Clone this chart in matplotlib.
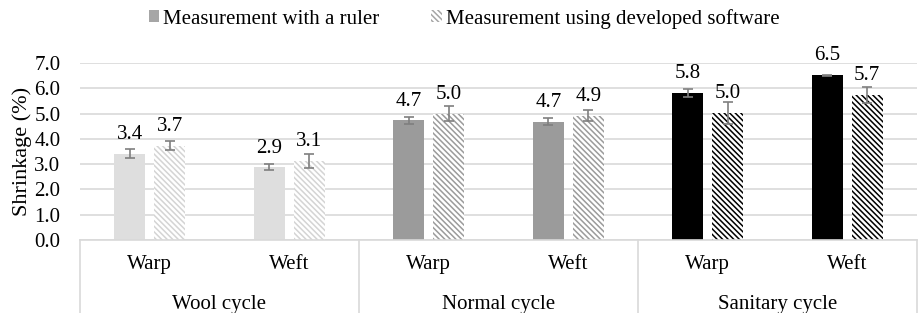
import matplotlib.pyplot as plt
from matplotlib.patches import Patch
import numpy as np

plt.rcParams['font.family'] = ['Liberation Serif', 'DejaVu Serif']
plt.rcParams['hatch.linewidth'] = 1.1

# data
groups = ['Wool cycle', 'Normal cycle', 'Sanitary cycle']
directions = ['Warp', 'Weft', 'Warp', 'Weft', 'Warp', 'Weft']
ruler = [3.42, 2.87, 4.73, 4.68, 5.82, 6.52]
ruler_err = [0.19, 0.12, 0.15, 0.14, 0.17, 0.02]
software = [3.73, 3.12, 5.0, 4.92, 5.02, 5.73]
software_err = [0.19, 0.27, 0.3, 0.22, 0.42, 0.33]
series_names = ['Measurement with a ruler', 'Measurement using developed software']

ruler_colors = ['#dedede', '#dedede', '#9b9b9b', '#9b9b9b', '#000000', '#000000']
hatch_colors = ['#d4d4d4', '#d4d4d4', '#9b9b9b', '#9b9b9b', '#000000', '#000000']

FS = 15
fig = plt.figure(figsize=(9.19, 3.13), dpi=100)
ax = fig.add_axes([80 / 919, 1 - 240 / 313, 837 / 919, 177 / 313])

x = np.arange(len(directions))
off = 0.143
w = 0.222
hatch = '\\' * 6

ax.bar(x - off, ruler, w, color=ruler_colors, zorder=2)
ax.bar(x + off, software, w, color='white', edgecolor=hatch_colors,
       linewidth=0, hatch=hatch, zorder=2)
ax.errorbar(x - off, ruler, yerr=ruler_err, fmt='none', ecolor='#7f7f7f',
            elinewidth=1.2, capsize=3.5, capthick=1.2, zorder=3)
ax.errorbar(x + off, software, yerr=software_err, fmt='none', ecolor='#7f7f7f',
            elinewidth=1.2, capsize=3.5, capthick=1.2, zorder=3)

for xi, v in zip(x - off, ruler):
    ax.annotate('%.1f' % v, (xi, v), xytext=(0, 7), textcoords='offset points',
                ha='center', va='bottom', fontsize=FS)
for xi, v in zip(x + off, software):
    ax.annotate('%.1f' % v, (xi, v), xytext=(0, 7), textcoords='offset points',
                ha='center', va='bottom', fontsize=FS)

ax.set_xlim(-0.5, 5.5)
ax.set_ylim(0, 7)
ax.set_yticks(np.arange(0, 7.1, 1.0))
ax.set_yticklabels(['%.1f' % t for t in np.arange(0, 7.1, 1.0)], fontsize=FS)
ax.yaxis.grid(True, color='#d9d9d9', linewidth=1.2)
ax.set_axisbelow(True)
ax.tick_params(axis='y', length=0, pad=14)
ax.set_ylabel('Shrinkage (%)', fontsize=FS + 1, labelpad=2)

ax.set_xticks(x)
ax.set_xticklabels(directions, fontsize=FS)
ax.tick_params(axis='x', length=0, pad=11)
for s in ['top', 'right', 'left']:
    ax.spines[s].set_visible(False)
ax.spines['bottom'].set_color('#d9d9d9')
ax.spines['bottom'].set_linewidth(1.2)

# category separators and group labels
trans = ax.get_xaxis_transform()
for sx in [-0.5, 1.5, 3.5, 5.5]:
    ax.plot([sx, sx], [0, -0.42], transform=trans, color='#d9d9d9',
            linewidth=1.2, clip_on=False)
for i, g in enumerate(groups):
    ax.text(2 * i + 0.5, -0.365, g, transform=trans, ha='center', va='center',
            fontsize=FS)

handles = [Patch(facecolor='#a6a6a6', edgecolor='none'),
           Patch(facecolor='white', edgecolor='#a6a6a6', linewidth=0, hatch=hatch)]
fig.legend(handles, series_names, loc='center', bbox_to_anchor=(0.505, 0.94),
           ncol=2, frameon=False, fontsize=FS, handlelength=0.5, handleheight=0.5,
           handletextpad=0.2, columnspacing=2.5)

fig.savefig('out.png', dpi=100)
